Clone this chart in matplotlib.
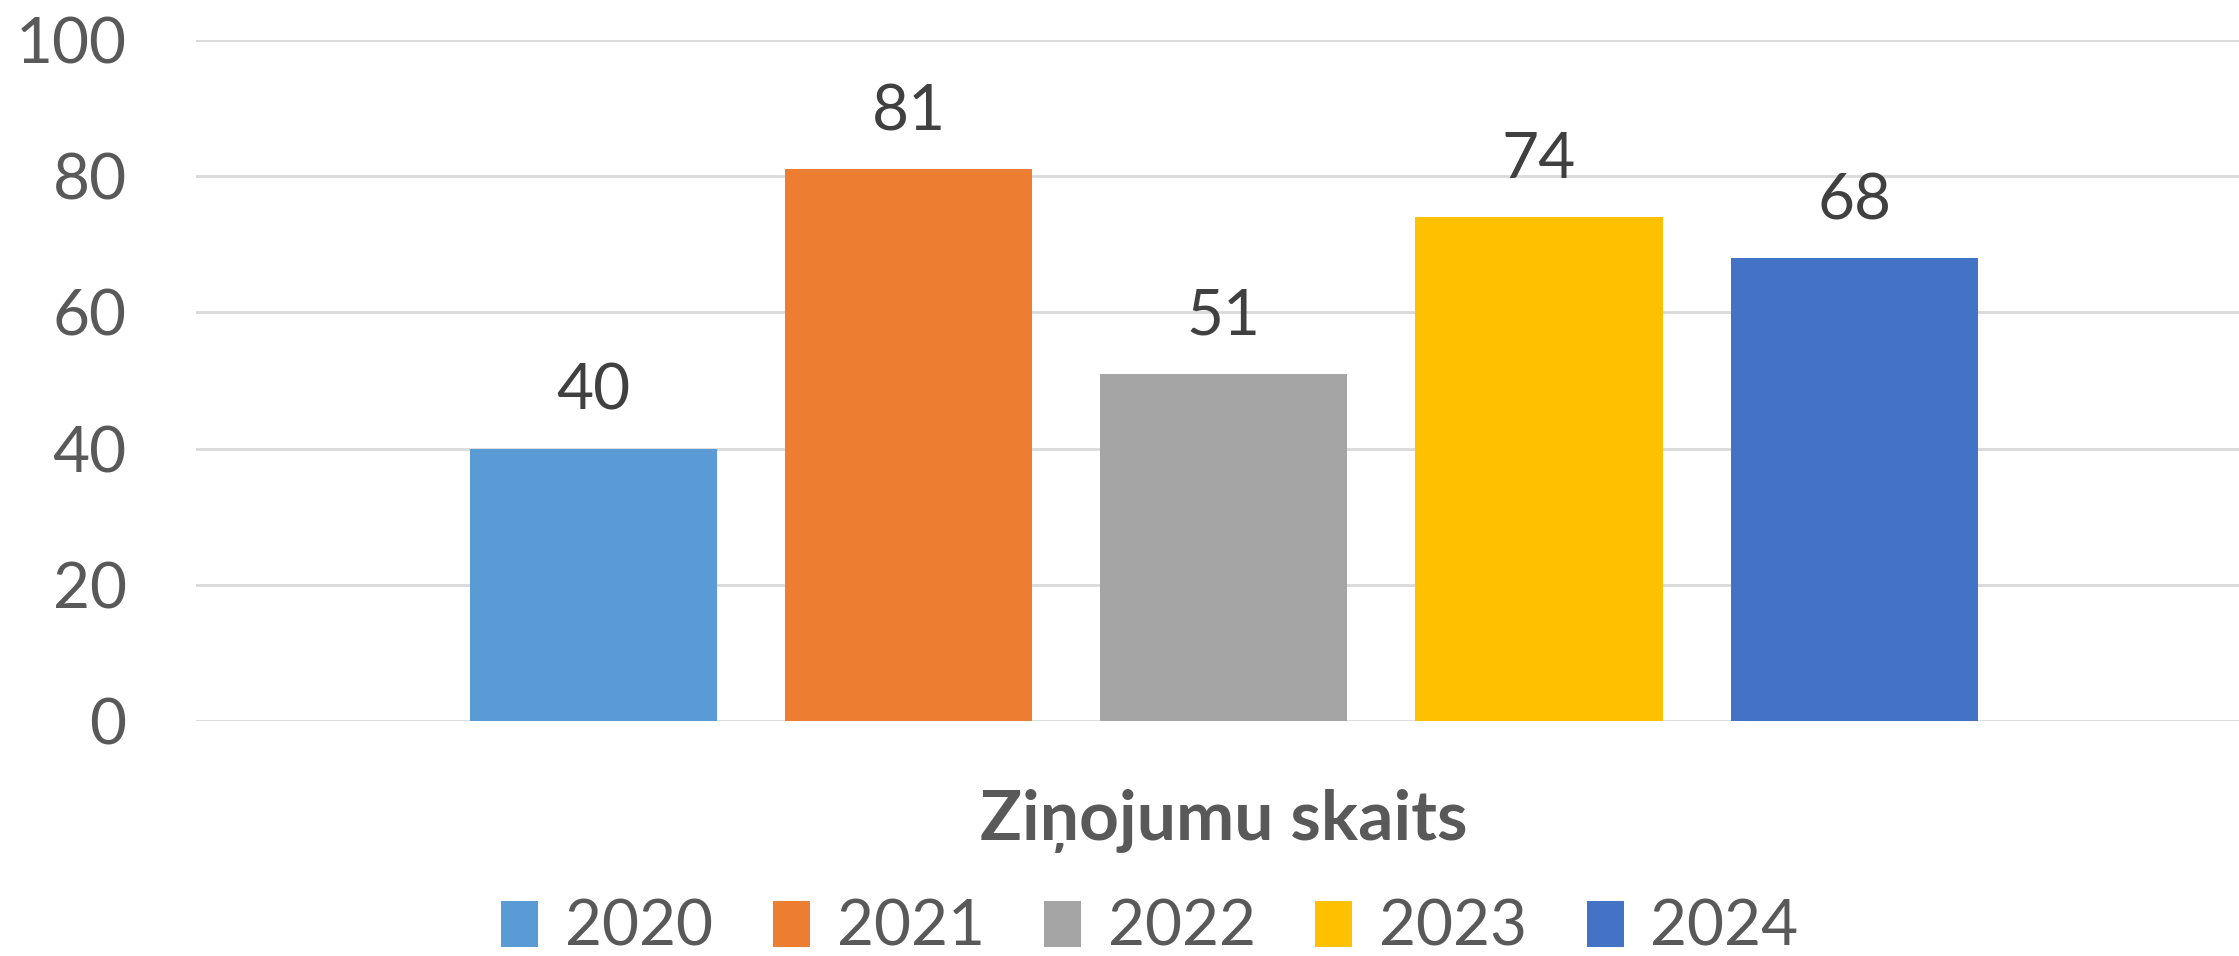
import matplotlib.pyplot as plt
import numpy as np

# dati
years = ['2020', '2021', '2022', '2023', '2024']
values = [40, 81, 51, 74, 68]
colors = ['#5B9BD5', '#ED7D31', '#A5A5A5', '#FFC000', '#4472C4']
xlabel = 'Ziņojumu skaits'
yticks = [0, 20, 40, 60, 80, 100]

plt.rcParams['font.family'] = ['Lato', 'DejaVu Sans']

W, H = 2239, 956
fig = plt.figure(figsize=(W / 100, H / 100), dpi=100)
ax = fig.add_axes([196 / W, 235 / H, 1 - 196 / W, 681 / H])

x = np.arange(len(years))
bars = ax.bar(x, values, width=0.784, color=colors, label=years, zorder=2)

for b, v in zip(bars, values):
    ax.annotate(str(v), (b.get_x() + b.get_width() / 2, v),
                xytext=(0, 20), textcoords='offset points',
                ha='center', va='bottom', fontsize=46, color='#404040')

ax.set_xlim(-1.26, 4 + 1.22)
ax.set_ylim(0, 100)
ax.set_yticks(yticks)
ax.set_xticks([])
ax.tick_params(axis='y', length=0, pad=50, labelsize=46, labelcolor='#595959')
ax.grid(axis='y', color='#D9D9D9', linewidth=2, zorder=0)
for s in ax.spines.values():
    s.set_visible(False)

fig.text(1224 / W, 1 - 821 / H, xlabel, ha='center', va='center',
         fontsize=50, fontweight='bold', color='#595959')

fig.legend(handles=bars, labels=years, loc='center', bbox_to_anchor=(1150 / W, 1 - 928 / H),
           ncol=5, frameon=False, fontsize=46, labelcolor='#595959',
           handlelength=0.58, handleheight=0.73, handletextpad=0.42,
           columnspacing=0.93, borderpad=0)

fig.savefig('out.png', dpi=100)
